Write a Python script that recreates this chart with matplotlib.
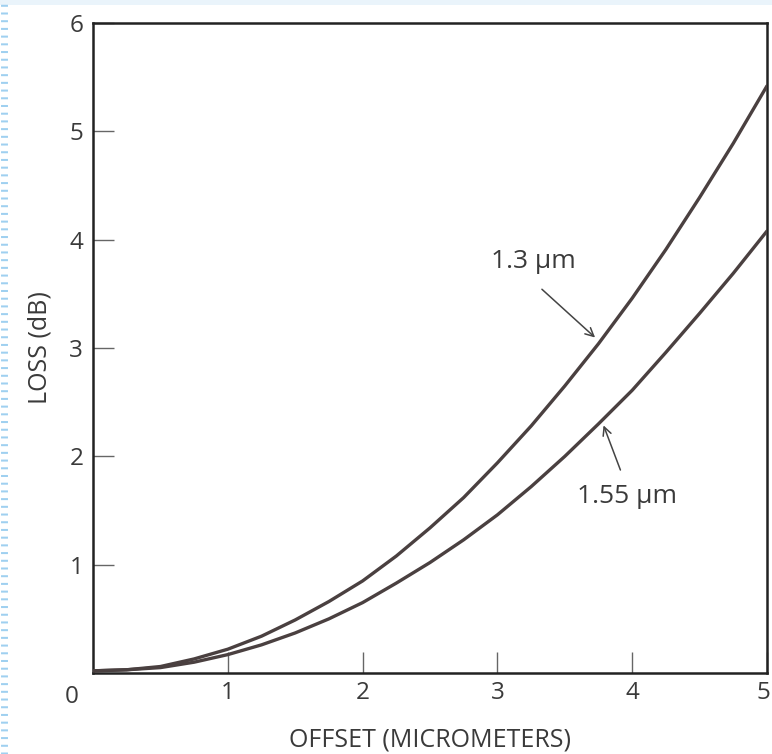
import matplotlib
matplotlib.use("Agg")
import matplotlib.pyplot as plt
import matplotlib.transforms as mtransforms
from matplotlib.lines import Line2D
from matplotlib.patches import Rectangle

# Data
offset_um = [0, 0.25, 0.5, 0.75, 1, 1.25, 1.5, 1.75, 2, 2.25, 2.5, 2.75, 3,
             3.25, 3.5, 3.75, 4, 4.25, 4.5, 4.75, 5]
loss_13 = [0.02, 0.03, 0.06, 0.13, 0.22, 0.34, 0.49, 0.66, 0.85, 1.08, 1.34,
           1.62, 1.94, 2.28, 2.65, 3.04, 3.46, 3.91, 4.39, 4.89, 5.42]
loss_155 = [0.02, 0.03, 0.05, 0.10, 0.17, 0.26, 0.37, 0.50, 0.65, 0.83, 1.02,
            1.23, 1.46, 1.72, 2.00, 2.30, 2.61, 2.96, 3.32, 3.69, 4.08]
x_ticks = [1, 2, 3, 4, 5]
y_ticks = [1, 2, 3, 4, 5, 6]
label_13 = "1.3 µm"
label_155 = "1.55 µm"

plt.rcParams['font.family'] = ['Open Sans', 'DejaVu Sans']
text_color = '#3a3a3a'
curve_color = '#4a4040'

fig = plt.figure(figsize=(7.72, 7.54), dpi=100)
fig.patch.set_facecolor('white')

# slide decoration: dashed light-blue strip on the left, pale band on top
fig.add_artist(Line2D([0.0048, 0.0048], [0, 1], transform=fig.transFigure,
                      color='#9fd0f0', linewidth=5, linestyle=(0, (0.29, 0.82)),
                      solid_capstyle='butt', dash_capstyle='butt'))
fig.add_artist(Rectangle((0, 0.994), 1, 0.006, transform=fig.transFigure,
                         color='#eaf4fb', linewidth=0))

ax = fig.add_axes([0.1205, 0.1074, 0.873, 0.862])
ax.plot(offset_um, loss_13, color=curve_color, linewidth=2.4,
        solid_capstyle='round', solid_joinstyle='round', zorder=3)
ax.plot(offset_um, loss_155, color=curve_color, linewidth=2.4,
        solid_capstyle='round', solid_joinstyle='round', zorder=3)

ax.set_xlim(0, 5)
ax.set_ylim(0, 6)
ax.set_xticks(x_ticks)
ax.set_yticks(y_ticks)
ax.set_xticklabels([str(v) for v in x_ticks])
ax.set_yticklabels([str(v) for v in y_ticks])
ax.tick_params(direction='in', length=15, width=1, color='#666666',
               labelsize=17.5, labelcolor=text_color, pad=7)
ax.tick_params(axis='x', pad=6)
for s in ax.spines.values():
    s.set_linewidth(1.8)
    s.set_color('#222222')

# nudge the last x tick label so it stays inside the figure
last = ax.get_xticklabels()[-1]
last.set_transform(last.get_transform() +
                   mtransforms.ScaledTranslation(-4 / 100, 0, fig.dpi_scale_trans))

ax.text(-0.031, -0.018, '0', transform=ax.transAxes, ha='center', va='top',
        fontsize=17.5, color=text_color)

ax.text(-0.079, 0.5, 'LOSS (dB)', transform=ax.transAxes, rotation=90,
        ha='center', va='center', fontsize=18, color=text_color)
ax.text(0.5, -0.103, 'OFFSET (MICROMETERS)', transform=ax.transAxes,
        ha='center', va='center', fontsize=18, color=text_color)

ax.annotate('', xy=(3.74, 3.08), xytext=(3.315, 3.56),
            arrowprops=dict(arrowstyle='->', color='#444444', lw=1.1,
                            mutation_scale=15))
ax.text(3.27, 3.80, label_13, ha='center', va='center', fontsize=19,
        color=text_color)
ax.annotate('', xy=(3.78, 2.31), xytext=(3.92, 1.85),
            arrowprops=dict(arrowstyle='->', color='#444444', lw=1.1,
                            mutation_scale=15))
ax.text(3.96, 1.63, label_155, ha='center', va='center', fontsize=19,
        color=text_color)

fig.savefig('out.png', dpi=100)
